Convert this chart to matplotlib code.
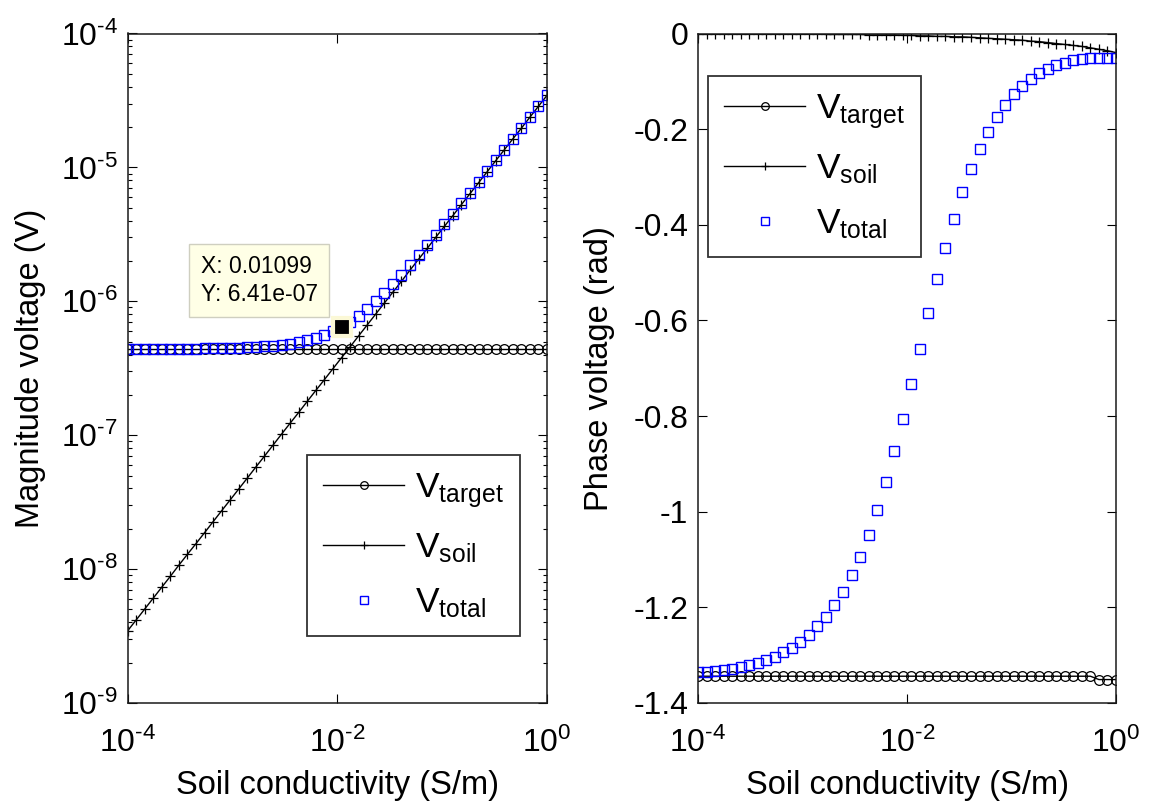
import numpy as np
import matplotlib
matplotlib.use("Agg")
import matplotlib.pyplot as plt
from matplotlib.ticker import LogLocator, NullLocator, FixedLocator, FuncFormatter

plt.rcParams["font.family"] = ["Liberation Sans", "DejaVu Sans"]
plt.rcParams["mathtext.fontset"] = "custom"
plt.rcParams["mathtext.rm"] = "Liberation Sans"
plt.rcParams["mathtext.it"] = "Liberation Sans"
plt.rcParams["axes.unicode_minus"] = False

# Soil conductivity sweep (S/m): 50 log-spaced samples from 1e-4 to 1
sigma = np.logspace(-4, 0, 50)

# Voltage magnitudes (V)
v_target_mag = [
    4.40e-7, 4.40e-7, 4.40e-7, 4.40e-7, 4.40e-7, 4.40e-7, 4.40e-7, 4.40e-7, 4.40e-7, 4.40e-7,
    4.40e-7, 4.40e-7, 4.40e-7, 4.40e-7, 4.40e-7, 4.40e-7, 4.40e-7, 4.40e-7, 4.40e-7, 4.40e-7,
    4.40e-7, 4.40e-7, 4.40e-7, 4.40e-7, 4.40e-7, 4.40e-7, 4.40e-7, 4.40e-7, 4.40e-7, 4.40e-7,
    4.40e-7, 4.40e-7, 4.40e-7, 4.40e-7, 4.40e-7, 4.40e-7, 4.40e-7, 4.40e-7, 4.40e-7, 4.40e-7,
    4.40e-7, 4.40e-7, 4.40e-7, 4.40e-7, 4.40e-7, 4.40e-7, 4.40e-7, 4.40e-7, 4.40e-7, 4.40e-7,
]
v_soil_mag = [
    3.45e-9, 4.16e-9, 5.02e-9, 6.06e-9, 7.32e-9, 8.83e-9, 1.07e-8, 1.29e-8, 1.55e-8, 1.87e-8,
    2.26e-8, 2.73e-8, 3.29e-8, 3.97e-8, 4.79e-8, 5.79e-8, 6.98e-8, 8.43e-8, 1.02e-7, 1.23e-7,
    1.48e-7, 1.79e-7, 2.16e-7, 2.60e-7, 3.14e-7, 3.79e-7, 4.57e-7, 5.52e-7, 6.66e-7, 8.04e-7,
    9.70e-7, 1.17e-6, 1.41e-6, 1.71e-6, 2.06e-6, 2.48e-6, 3.00e-6, 3.62e-6, 4.36e-6, 5.27e-6,
    6.36e-6, 7.67e-6, 9.26e-6, 1.12e-5, 1.35e-5, 1.63e-5, 1.96e-5, 2.37e-5, 2.86e-5, 3.45e-5,
]
v_total_mag = [
    4.41e-7, 4.41e-7, 4.41e-7, 4.41e-7, 4.42e-7, 4.42e-7, 4.43e-7, 4.43e-7, 4.44e-7, 4.45e-7,
    4.46e-7, 4.47e-7, 4.49e-7, 4.51e-7, 4.53e-7, 4.57e-7, 4.61e-7, 4.66e-7, 4.74e-7, 4.83e-7,
    4.95e-7, 5.11e-7, 5.32e-7, 5.60e-7, 5.96e-7, 6.41e-7, 7.04e-7, 7.81e-7, 8.79e-7, 1.00e-6,
    1.15e-6, 1.34e-6, 1.57e-6, 1.86e-6, 2.20e-6, 2.62e-6, 3.13e-6, 3.75e-6, 4.49e-6, 5.39e-6,
    6.48e-6, 7.79e-6, 9.37e-6, 1.13e-5, 1.36e-5, 1.64e-5, 1.97e-5, 2.38e-5, 2.87e-5, 3.46e-5,
]

# Voltage phases (rad)
ph_target = [
    -1.344, -1.344, -1.344, -1.344, -1.344, -1.344, -1.344, -1.344, -1.344, -1.344,
    -1.344, -1.344, -1.344, -1.344, -1.344, -1.344, -1.344, -1.344, -1.344, -1.344,
    -1.344, -1.344, -1.344, -1.344, -1.344, -1.344, -1.344, -1.344, -1.344, -1.344,
    -1.344, -1.344, -1.344, -1.344, -1.344, -1.344, -1.344, -1.344, -1.344, -1.344,
    -1.344, -1.344, -1.344, -1.344, -1.344, -1.344, -1.344, -1.351, -1.351, -1.351,
]
ph_soil = [
    0.000, 0.000, 0.000, -0.001, -0.001, -0.001, -0.001, -0.001, -0.001, -0.001,
    -0.001, -0.001, -0.001, -0.001, -0.001, -0.002, -0.002, -0.002, -0.002, -0.002,
    -0.003, -0.003, -0.003, -0.003, -0.004, -0.004, -0.005, -0.005, -0.006, -0.006,
    -0.007, -0.007, -0.008, -0.009, -0.010, -0.011, -0.012, -0.013, -0.014, -0.016,
    -0.017, -0.019, -0.021, -0.023, -0.025, -0.027, -0.030, -0.033, -0.036, -0.040,
]
ph_total = [
    -1.336, -1.335, -1.333, -1.331, -1.328, -1.324, -1.320, -1.316, -1.310, -1.303,
    -1.294, -1.284, -1.272, -1.258, -1.240, -1.220, -1.196, -1.167, -1.133, -1.094,
    -1.048, -0.997, -0.938, -0.874, -0.806, -0.733, -0.659, -0.585, -0.514, -0.448,
    -0.387, -0.332, -0.283, -0.241, -0.205, -0.175, -0.149, -0.127, -0.110, -0.095,
    -0.083, -0.074, -0.066, -0.061, -0.056, -0.054, -0.052, -0.051, -0.051, -0.052,
]

labels = [r"$\mathrm{V}_{\mathrm{target}}$", r"$\mathrm{V}_{\mathrm{soil}}$",
          r"$\mathrm{V}_{\mathrm{total}}$"]
phase_ticks = [0, -0.2, -0.4, -0.6, -0.8, -1.0, -1.2, -1.4]
phase_ticklabels = ["0", "-0.2", "-0.4", "-0.6", "-0.8", "-1", "-1.2", "-1.4"]
tip_index = 25

W, H = 1156, 801
fig = plt.figure(figsize=(W / 100, H / 100), dpi=100)


def px_axes(x0, x1, y0, y1):
    return fig.add_axes([x0 / W, 1 - y1 / H, (x1 - x0) / W, (y1 - y0) / H])


def pow10_label(v, _pos):
    e = int(round(np.log10(v)))
    return r"$\mathdefault{10^{\text{%d}}}$" % e


ax1 = px_axes(127.5, 547, 33.5, 703)
ax2 = px_axes(698, 1116, 33.5, 703)

TICK_FS = 23
LABEL_FS = 23.5
LEG_FS = 25.5

style_target = dict(color="black", lw=1.0, marker="o", ms=7, mfc="none", mec="black", mew=0.9)
style_soil = dict(color="black", lw=1.0, marker="+", ms=7, mec="black", mew=0.9)
style_total = dict(ls="none", marker="s", ms=7, mfc="none", mec="#0000ff", mew=1.0)

# Magnitude panel
h1 = ax1.loglog(sigma, v_target_mag, **style_target)[0]
h2 = ax1.loglog(sigma, v_soil_mag, **style_soil)[0]
h3 = ax1.loglog(sigma, v_total_mag, **style_total)[0]
ax1.set_xlim(1e-4, 1)
ax1.set_ylim(1e-9, 1e-4)
ax1.set_ylabel("Magnitude voltage (V)", fontsize=LABEL_FS)
ax1.yaxis.set_major_locator(FixedLocator([1e-9, 1e-8, 1e-7, 1e-6, 1e-5, 1e-4]))
ax1.yaxis.set_minor_locator(LogLocator(base=10, subs=np.arange(2, 10), numticks=20))
ax1.yaxis.set_major_formatter(FuncFormatter(pow10_label))

# Phase panel
ax2.semilogx(sigma, ph_target, **style_target)
ax2.semilogx(sigma, ph_soil, **style_soil)
ax2.semilogx(sigma, ph_total, **style_total)
ax2.set_xlim(1e-4, 1)
ax2.set_ylim(-1.4, 0)
ax2.set_yticks(phase_ticks)
ax2.set_yticklabels(phase_ticklabels)
ax2.set_ylabel("Phase voltage (rad)", fontsize=LABEL_FS)

for ax in (ax1, ax2):
    ax.xaxis.set_major_locator(FixedLocator([1e-4, 1e-2, 1]))
    ax.xaxis.set_minor_locator(NullLocator())
    ax.xaxis.set_major_formatter(FuncFormatter(pow10_label))
    ax.set_xlabel("Soil conductivity (S/m)", fontsize=LABEL_FS)
    ax.tick_params(which="both", direction="in", top=True, right=True,
                   width=0.8, colors="black", labelsize=TICK_FS)
    ax.tick_params(which="major", length=6.5)
    ax.tick_params(which="minor", length=3)
    ax.tick_params(axis="x", pad=18)
    ax.tick_params(axis="y", pad=7)
    for sp in ax.spines.values():
        sp.set_linewidth(1.1)
        sp.set_color("#1a1a1a")
    ax.xaxis.set_label_coords(0.5, -0.1)

ax1.yaxis.set_label_coords(-0.194, 0.5)
ax2.yaxis.set_label_coords(-0.199, 0.5)

# Data tip on the total magnitude curve
tx, ty = sigma[tip_index], v_total_mag[tip_index]
ax1.plot([tx], [ty], ls="none", marker="s", ms=12.5, mfc="black", mec="#fbf8d6", mew=3.0, zorder=5)
ax1.annotate(f"X: {tx:.4g}\nY: {ty:.3g}", xy=(tx, ty), xycoords="data",
             xytext=(-141, 72), textcoords="offset pixels", ha="left", va="top",
             fontsize=16.5, linespacing=1.25,
             bbox=dict(boxstyle="square,pad=0.5", fc="#ffffe6", ec="#cfcfc0", lw=1.0))

leg_kw = dict(fontsize=LEG_FS, frameon=True, fancybox=False, borderaxespad=0,
              handlelength=2.3, handletextpad=0.3, borderpad=0.45, labelspacing=0.6,
              numpoints=1, loc="upper left", bbox_transform=fig.transFigure)
for ax, (lx, ly) in ((ax1, (307, 455)), (ax2, (708, 76))):
    leg = ax.legend([h1, h2, h3], labels, bbox_to_anchor=(lx / W, 1 - ly / H), **leg_kw)
    leg.get_frame().set_edgecolor("black")
    leg.get_frame().set_linewidth(1.3)
    for lh in leg.legend_handles:
        lh.set_markersize(5.5)

fig.savefig("out.png", dpi=100, facecolor="white")
